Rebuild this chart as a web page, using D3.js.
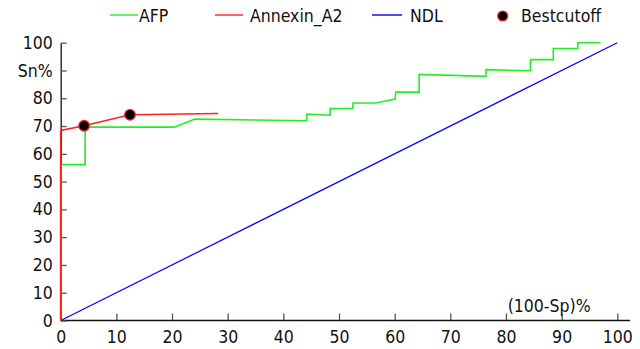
<!DOCTYPE html>
<html>
<head>
<meta charset="utf-8">
<script src="https://cdn.jsdelivr.net/npm/d3@7"></script>
<style>
  body { margin: 0; background: #fff; }
  text { font-family: "DejaVu Sans Condensed", "DejaVu Sans", sans-serif; font-stretch: condensed; font-size: 17.5px; fill: #111; }
</style>
</head>
<body>
<script>
// AFP ROC curve (step points)
var afpX = [0, 0, 4.4, 4.4, 20.4, 24.1, 44.2, 44.2, 48.4, 48.4, 52.5, 52.5, 56.6, 60.1, 60.2, 64.4, 64.4, 76.4, 76.4, 84.4, 84.4, 88.5, 88.5, 92.9, 92.9, 97.0];
var afpY = [0, 56.1, 56.1, 69.6, 69.6, 72.5, 71.9, 74.3, 73.9, 76.3, 76.3, 78.3, 78.3, 79.7, 82.2, 82.2, 88.6, 87.9, 90.3, 89.9, 93.9, 93.9, 97.9, 97.9, 100, 100];
// Annexin_A2 ROC curve
var annX = [0, 0, 4.2, 12.45, 28.3];
var annY = [0, 68.4, 70.1, 74.05, 74.5];
// no discrimination line
var ndlX = [0, 100];
var ndlY = [0, 100];
// best cutoff points
var cutX = [4.2, 12.45];
var cutY = [70.1, 74.05];
// ticks
var xTicks = [0, 10, 20, 30, 40, 50, 60, 70, 80, 90, 100];
var yTicks = [0, 10, 20, 30, 40, 50, 60, 70, 80, 90, 100];
var yTickLabels = ["0", "10", "20", "30", "40", "50", "60", "70", "80", "Sn%", "100"];

window.onload = function(){
    var w = 640, h = 349;
    var svg = d3.select("body").append("svg")
        .attr("width", w)
        .attr("height", h);

    var x = d3.scaleLinear().domain([0, 100]).range([60.7, 617.3]);
    var y = d3.scaleLinear().domain([0, 100]).range([320.5, 42.7]);

    //x axis, ticks pointing up
    var xAxis = d3.axisBottom(x)
        .tickValues(xTicks)
        .tickSizeInner(-7)
        .tickSizeOuter(0)
        .tickPadding(0);
    var gx = svg.append("g")
        .attr("transform", "translate(0," + y(0) + ")")
        .call(xAxis);
    gx.select(".domain").remove();
    gx.selectAll(".tick line").attr("stroke", "#555").attr("stroke-width", 1.3);
    gx.selectAll(".tick text")
        .attr("y", 16)
        .attr("dy", "0.35em")
        .style("font-size", "17.5px");
    gx.append("line")
        .attr("x1", x(0)).attr("x2", x(102.3))
        .attr("stroke", "#111").attr("stroke-width", 1.3);

    //y axis, ticks pointing right
    var yAxis = d3.axisLeft(y)
        .tickValues(yTicks)
        .tickSizeInner(-6)
        .tickSizeOuter(0)
        .tickPadding(8)
        .tickFormat(function(d, i){ return yTickLabels[i]; });
    var gy = svg.append("g")
        .attr("transform", "translate(" + x(0) + ",0)")
        .call(yAxis);
    gy.select(".domain").attr("stroke", "#111").attr("stroke-width", 1.3);
    gy.selectAll(".tick line").attr("stroke", "#555").attr("stroke-width", 1.3);
    gy.selectAll(".tick text").style("font-size", "17.5px");

    svg.append("text")
        .attr("x", x(80.3))
        .attr("y", y(0) - 9)
        .text("(100-Sp)%");

    var line = d3.line()
        .x(function(d){ return x(d[0]); })
        .y(function(d){ return y(d[1]); });

    function pairs(xs, ys){
        return xs.map(function(v, i){ return [v, ys[i]]; });
    }

    svg.append("path")
        .datum(pairs(ndlX, ndlY))
        .attr("d", line)
        .attr("fill", "none")
        .attr("stroke", "#0000ff")
        .attr("stroke-width", 1.2);

    svg.append("path")
        .datum(pairs(afpX, afpY))
        .attr("d", line)
        .attr("fill", "none")
        .attr("stroke", "#22ee22")
        .attr("stroke-width", 1.6);

    svg.append("path")
        .datum(pairs(annX, annY))
        .attr("d", line)
        .attr("fill", "none")
        .attr("stroke", "#ff2222")
        .attr("stroke-width", 1.6);

    svg.selectAll(".cut")
        .data(pairs(cutX, cutY))
        .enter()
        .append("circle")
        .attr("class", "cut")
        .attr("cx", function(d){ return x(d[0]); })
        .attr("cy", function(d){ return y(d[1]); })
        .attr("r", 5.3)
        .attr("fill", "#000")
        .attr("stroke", "#ff2222")
        .attr("stroke-width", 1.2);

    //legend
    var legend = [
        {name: "AFP", color: "#22ee22", x1: 110, x2: 138, tx: 139},
        {name: "Annexin_A2", color: "#ff2222", x1: 215, x2: 243, tx: 250},
        {name: "NDL", color: "#0000ff", x1: 372, x2: 402, tx: 410}
    ];
    var lg = svg.append("g").attr("class", "legend");
    legend.forEach(function(d){
        lg.append("line")
            .attr("x1", d.x1).attr("x2", d.x2)
            .attr("y1", 15).attr("y2", 15)
            .attr("stroke", d.color)
            .attr("stroke-width", 1.4);
        lg.append("text")
            .attr("x", d.tx)
            .attr("y", 22)
            .text(d.name);
    });
    lg.append("circle")
        .attr("cx", 502.7).attr("cy", 16)
        .attr("r", 5)
        .attr("fill", "#000")
        .attr("stroke", "#ff2222")
        .attr("stroke-width", 1.2);
    lg.append("text")
        .attr("x", 521)
        .attr("y", 22)
        .text("Bestcutoff");
};
</script>
</body>
</html>
